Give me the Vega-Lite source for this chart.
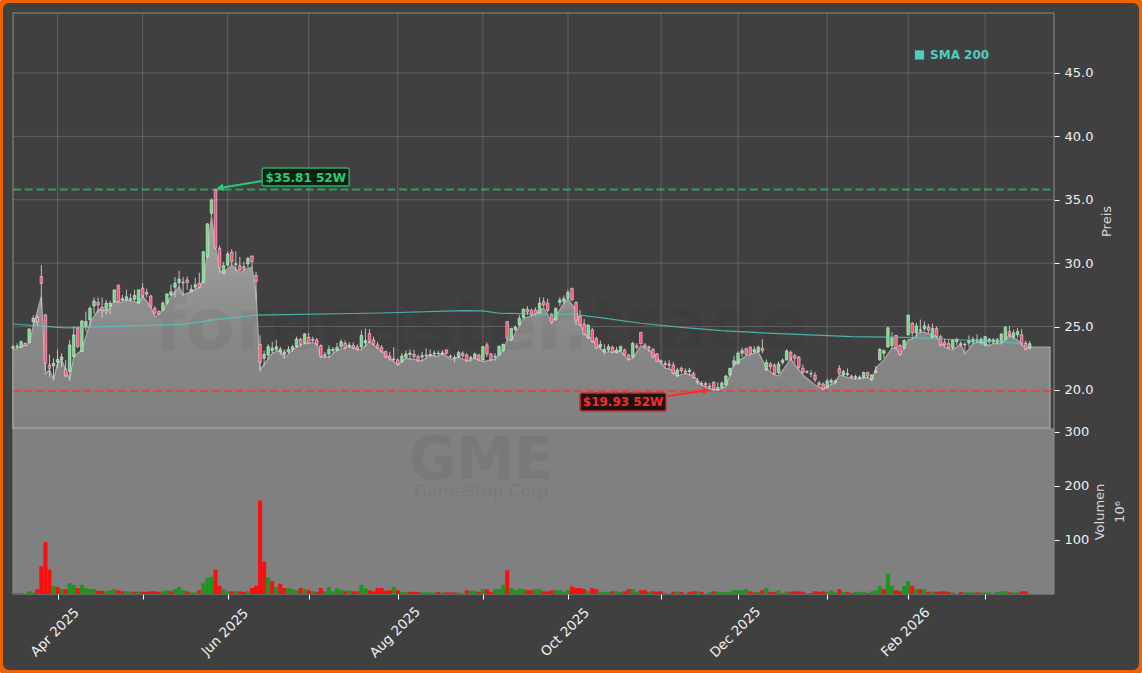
{"$schema":"https://vega.github.io/schema/vega-lite/v6.json","width":1142,"height":673,"autosize":"none","padding":0,"background":"#e8e8e8","view":{"fill":"#404040","stroke":"#F26100","strokeWidth":6,"cornerRadius":9},"config":{"font":"DejaVu Sans","axis":{"domain":false,"grid":false,"tickColor":"#ffffff","tickSize":5,"tickWidth":1,"labelColor":"#f0f0f0","labelFontSize":13,"titleColor":"#d8d8d8","titleFontSize":13,"titleFontWeight":"normal","labelPadding":5}},
"datasets":{
"vgrid":[{"i":11,"p0":16.92,"p1":49.73},{"i":32,"p0":16.92,"p1":49.73},{"i":53,"p0":16.92,"p1":49.73},{"i":73,"p0":16.92,"p1":49.73},{"i":95,"p0":16.92,"p1":49.73},{"i":116,"p0":16.92,"p1":49.73},{"i":137,"p0":16.92,"p1":49.73},{"i":160,"p0":16.92,"p1":49.73},{"i":179,"p0":16.92,"p1":49.73},{"i":201,"p0":16.92,"p1":49.73},{"i":221,"p0":16.92,"p1":49.73},{"i":240,"p0":16.92,"p1":49.73}],
"hgrid":[{"x0":0,"x1":257,"p":20},{"x0":0,"x1":257,"p":25},{"x0":0,"x1":257,"p":30},{"x0":0,"x1":257,"p":35},{"x0":0,"x1":257,"p":40},{"x0":0,"x1":257,"p":45}],
"frame":[{"x0":0,"x1":257,"p0":16.92,"p1":49.73}],
"panel":[{"x0":0,"x1":257,"v0":0,"v1":305}],
"levels":[{"x0":0,"x1":257,"p":35.81,"k":"g"},{"x0":0,"x1":257,"p":19.93,"k":"r"}],
"arrows":[{"i":61.5,"i2":51.1,"p":36.48,"p2":35.93,"k":"g"},{"i":161.7,"i2":171.1,"p":19.53,"p2":19.96,"k":"r"}],
"boxes":[{"x0":61.5,"x1":83,"p0":36.09,"p1":37.5,"k":"g"},{"x0":140,"x1":161.2,"p0":18.34,"p1":19.76,"k":"r"}],
"labels":[{"i":72.25,"p":36.75,"t":"$35.81 52W","k":"g"},{"i":150.6,"p":19.02,"t":"$19.93 52W","k":"r"}],
"sma":[{"i":0,"p":25.2},{"i":13,"p":24.9},{"i":34,"p":25.1},{"i":42,"p":25.18},{"i":49,"p":25.5},{"i":60,"p":25.9},{"i":91,"p":26.07},{"i":111,"p":26.26},{"i":116,"p":26.23},{"i":120,"p":26.05},{"i":133,"p":25.97},{"i":138,"p":25.97},{"i":145,"p":25.7},{"i":155,"p":25.26},{"i":165,"p":24.94},{"i":175,"p":24.68},{"i":184,"p":24.52},{"i":207,"p":24.2},{"i":220,"p":24.15},{"i":229,"p":24.02},{"i":241,"p":23.86},{"i":249,"p":23.68}],
"area":[{"i":0,"p":23.15},{"i":4,"p":23.68},{"i":5,"p":25},{"i":7,"p":27.36},{"i":8,"p":21.26},{"i":9,"p":21.58},{"i":10,"p":20.8},{"i":11,"p":22.1},{"i":12,"p":22.37},{"i":14,"p":20.8},{"i":15,"p":22.63},{"i":17,"p":23.15},{"i":19,"p":25.26},{"i":21,"p":26.3},{"i":22,"p":26.44},{"i":23,"p":26.05},{"i":24,"p":26.57},{"i":25,"p":26.97},{"i":27,"p":26.9},{"i":28,"p":27.1},{"i":31,"p":26.89},{"i":32,"p":27.41},{"i":34,"p":26.57},{"i":35,"p":25.73},{"i":37,"p":26.3},{"i":39,"p":27.36},{"i":41,"p":28.15},{"i":42,"p":27.5},{"i":44,"p":27.76},{"i":46,"p":28.1},{"i":47,"p":28.68},{"i":48,"p":30.78},{"i":49,"p":33.67},{"i":50,"p":31.3},{"i":51,"p":29.46},{"i":52,"p":29.25},{"i":54,"p":29.86},{"i":56,"p":29.25},{"i":57,"p":29.46},{"i":59,"p":29.67},{"i":60,"p":27.62},{"i":61,"p":21.58},{"i":64,"p":22.89},{"i":66,"p":23.15},{"i":67,"p":22.5},{"i":69,"p":23.15},{"i":71,"p":23.55},{"i":73,"p":23.73},{"i":75,"p":23.68},{"i":76,"p":22.63},{"i":78,"p":22.58},{"i":80,"p":23.15},{"i":83,"p":23.42},{"i":86,"p":23.15},{"i":88,"p":23.8},{"i":91,"p":23.05},{"i":95,"p":21.97},{"i":97,"p":22.5},{"i":101,"p":22.3},{"i":103,"p":22.76},{"i":105,"p":22.63},{"i":106,"p":22.94},{"i":108,"p":22.42},{"i":110,"p":22.58},{"i":112,"p":22.3},{"i":114,"p":22.5},{"i":116,"p":22.24},{"i":119,"p":22.42},{"i":121,"p":23.15},{"i":122,"p":23.94},{"i":123,"p":23.94},{"i":125,"p":25},{"i":126,"p":25.65},{"i":128,"p":25.84},{"i":131,"p":26.44},{"i":133,"p":25.39},{"i":134,"p":25.78},{"i":136,"p":26.84},{"i":137,"p":27.15},{"i":139,"p":26.3},{"i":140,"p":25.26},{"i":141,"p":24.47},{"i":143,"p":23.94},{"i":145,"p":23.29},{"i":146,"p":22.97},{"i":148,"p":23.02},{"i":150,"p":23.02},{"i":152,"p":22.37},{"i":153,"p":22.5},{"i":155,"p":23.47},{"i":157,"p":23.15},{"i":159,"p":22.58},{"i":161,"p":21.71},{"i":163,"p":21.58},{"i":164,"p":21.1},{"i":166,"p":21.31},{"i":168,"p":21.1},{"i":170,"p":20.39},{"i":172,"p":20.13},{"i":174,"p":19.97},{"i":176,"p":20.26},{"i":177,"p":21.18},{"i":178,"p":22.1},{"i":181,"p":22.68},{"i":184,"p":23},{"i":186,"p":21.7},{"i":188,"p":21.18},{"i":189,"p":21.1},{"i":191,"p":21.97},{"i":192,"p":22.5},{"i":193,"p":21.97},{"i":195,"p":21.18},{"i":198,"p":20.39},{"i":200,"p":20.08},{"i":201,"p":20.26},{"i":203,"p":20.58},{"i":204,"p":21.18},{"i":206,"p":21},{"i":208,"p":20.84},{"i":211,"p":21},{"i":212,"p":20.74},{"i":213,"p":21.71},{"i":215,"p":22.37},{"i":217,"p":23.29},{"i":218,"p":23.37},{"i":219,"p":22.76},{"i":221,"p":23.94},{"i":222,"p":24},{"i":224,"p":24.6},{"i":226,"p":24.47},{"i":228,"p":24.2},{"i":230,"p":23.37},{"i":232,"p":23.15},{"i":234,"p":23.63},{"i":235,"p":22.8},{"i":237,"p":23.68},{"i":239,"p":23.8},{"i":241,"p":23.47},{"i":242,"p":23.68},{"i":244,"p":23.63},{"i":246,"p":24.34},{"i":248,"p":23.94},{"i":250,"p":23.29},{"i":251,"p":23.37},{"i":256,"p":23.37}],
"candles":[
{"i":0,"o":23.3,"h":23.55,"l":23.15,"c":23.4,"v":2,"u":1},{"i":1,"o":23.4,"h":23.68,"l":23.23,"c":23.45,"v":2,"u":1},{"i":2,"o":23.37,"h":23.9,"l":23.3,"c":23.81,"v":2,"u":1},{"i":3,"o":23.68,"h":23.75,"l":23.45,"c":23.5,"v":1,"u":1},{"i":4,"o":23.73,"h":24.85,"l":23.7,"c":24.81,"v":5,"u":1},{"i":5,"o":25.39,"h":25.9,"l":25,"c":25.65,"v":3,"u":1},{"i":6,"o":25.73,"h":25.9,"l":25,"c":25.34,"v":9,"u":0},{"i":7,"o":28.94,"h":29.85,"l":26.5,"c":28.41,"v":51,"u":0},{"i":8,"o":25.92,"h":26,"l":21.5,"c":22.1,"v":96,"u":0},{"i":9,"o":21.97,"h":22.8,"l":21,"c":21.71,"v":45,"u":0},
{"i":10,"o":21.9,"h":22.5,"l":20.8,"c":22.1,"v":15,"u":1},{"i":11,"o":22.2,"h":23.2,"l":21.7,"c":22.4,"v":13,"u":0},{"i":12,"o":22.4,"h":22.9,"l":21.8,"c":22.6,"v":9,"u":1},{"i":13,"o":21.63,"h":22.35,"l":21,"c":21.1,"v":9,"u":0},{"i":14,"o":21.45,"h":23.95,"l":20.8,"c":23.55,"v":20,"u":1},{"i":15,"o":22.63,"h":25,"l":22.6,"c":24.34,"v":17,"u":1},{"i":16,"o":24.86,"h":25,"l":23.3,"c":23.42,"v":11,"u":0},{"i":17,"o":23.02,"h":25.5,"l":23,"c":25.44,"v":17,"u":1},{"i":18,"o":25,"h":26.18,"l":24.6,"c":25.4,"v":11,"u":1},{"i":19,"o":25.52,"h":26.6,"l":25,"c":26.44,"v":9,"u":1},
{"i":20,"o":26.63,"h":27.3,"l":26,"c":27.02,"v":9,"u":1},{"i":21,"o":26.91,"h":27.3,"l":26.05,"c":26.7,"v":6,"u":0},{"i":22,"o":26.52,"h":27.3,"l":25.7,"c":26.26,"v":6,"u":0},{"i":23,"o":26.26,"h":27.1,"l":25.95,"c":26.84,"v":5,"u":1},{"i":24,"o":26.6,"h":27,"l":25.95,"c":26.85,"v":7,"u":1},{"i":25,"o":26.97,"h":27.9,"l":26.9,"c":27.89,"v":9,"u":1},{"i":26,"o":28.28,"h":28.28,"l":26.9,"c":26.97,"v":7,"u":0},{"i":27,"o":27.05,"h":27.5,"l":27,"c":27.2,"v":5,"u":0},{"i":28,"o":27.1,"h":27.9,"l":27,"c":27.35,"v":5,"u":1},{"i":29,"o":27.1,"h":27.6,"l":27,"c":27.2,"v":5,"u":1},
{"i":30,"o":27.15,"h":27.9,"l":27,"c":27.45,"v":4,"u":0},{"i":31,"o":26.85,"h":27.9,"l":26.8,"c":27.9,"v":5,"u":1},{"i":32,"o":28.02,"h":28.4,"l":27.2,"c":27.41,"v":4,"u":0},{"i":33,"o":27.7,"h":28,"l":27.3,"c":27.55,"v":4,"u":0},{"i":34,"o":27.41,"h":27.5,"l":26.5,"c":26.57,"v":5,"u":0},{"i":35,"o":26.44,"h":26.6,"l":25.9,"c":26.05,"v":5,"u":0},{"i":36,"o":26.18,"h":26.3,"l":25.9,"c":26,"v":4,"u":0},{"i":37,"o":26.3,"h":27,"l":26.2,"c":26.84,"v":5,"u":1},{"i":38,"o":26.84,"h":27.6,"l":26.7,"c":27.57,"v":7,"u":1},{"i":39,"o":27.5,"h":28.3,"l":27.4,"c":27.75,"v":5,"u":0},
{"i":40,"o":28.1,"h":28.9,"l":27.3,"c":28.41,"v":9,"u":1},{"i":41,"o":28.47,"h":29.4,"l":28.1,"c":28.73,"v":13,"u":1},{"i":42,"o":28.5,"h":28.9,"l":27.4,"c":28.45,"v":7,"u":1},{"i":43,"o":28.68,"h":28.95,"l":27.9,"c":28.47,"v":5,"u":0},{"i":44,"o":27.76,"h":28.3,"l":27.7,"c":27.94,"v":3,"u":1},{"i":45,"o":28.1,"h":28.85,"l":27.9,"c":28.3,"v":3,"u":1},{"i":46,"o":28.41,"h":29.25,"l":28,"c":28.1,"v":7,"u":0},{"i":47,"o":28.5,"h":30.96,"l":28.4,"c":30.9,"v":20,"u":1},{"i":48,"o":30.52,"h":33.14,"l":30.4,"c":33.1,"v":30,"u":1},{"i":49,"o":33.93,"h":35.1,"l":33.67,"c":34.98,"v":32,"u":1},
{"i":50,"o":35.81,"h":35.81,"l":31.1,"c":31.2,"v":45,"u":0},{"i":51,"o":31.17,"h":31.4,"l":29.2,"c":29.6,"v":15,"u":0},{"i":52,"o":29.2,"h":30.1,"l":29.15,"c":29.8,"v":9,"u":1},{"i":53,"o":29.86,"h":30.93,"l":29.7,"c":30.73,"v":5,"u":1},{"i":54,"o":30.86,"h":31.1,"l":29.86,"c":30.12,"v":5,"u":0},{"i":55,"o":29.9,"h":30.94,"l":29.35,"c":29.95,"v":5,"u":1},{"i":56,"o":29.8,"h":30.5,"l":29.35,"c":29.46,"v":5,"u":0},{"i":57,"o":29.73,"h":30.1,"l":29.4,"c":29.55,"v":4,"u":0},{"i":58,"o":29.94,"h":30.5,"l":29.6,"c":30.38,"v":5,"u":1},{"i":59,"o":30.57,"h":30.57,"l":29.6,"c":30.12,"v":11,"u":0},
{"i":60,"o":29.05,"h":29.3,"l":27,"c":28.55,"v":15,"u":0},{"i":61,"o":23.6,"h":24.3,"l":21.45,"c":22.18,"v":173,"u":0},{"i":62,"o":22.5,"h":23.1,"l":21.9,"c":22.8,"v":60,"u":0},{"i":63,"o":22.76,"h":23.6,"l":22.4,"c":23.42,"v":30,"u":1},{"i":64,"o":23.1,"h":23.8,"l":22.9,"c":23.3,"v":24,"u":0},{"i":65,"o":23.2,"h":23.95,"l":23,"c":23.4,"v":13,"u":1},{"i":66,"o":23,"h":23.4,"l":22.75,"c":23.2,"v":19,"u":0},{"i":67,"o":22.8,"h":23.2,"l":22.5,"c":23,"v":11,"u":0},{"i":68,"o":23,"h":23.45,"l":22.9,"c":23.2,"v":11,"u":1},{"i":69,"o":23.2,"h":23.55,"l":23,"c":23.4,"v":9,"u":1},
{"i":70,"o":23.42,"h":24.2,"l":23.3,"c":24,"v":7,"u":1},{"i":71,"o":24,"h":24.1,"l":23.4,"c":23.6,"v":11,"u":0},{"i":72,"o":23.68,"h":24.5,"l":23.6,"c":24.42,"v":9,"u":1},{"i":73,"o":24.15,"h":24.5,"l":23.6,"c":23.68,"v":7,"u":0},{"i":74,"o":24,"h":24.2,"l":23.7,"c":23.9,"v":5,"u":1},{"i":75,"o":23.94,"h":24.1,"l":23.5,"c":23.6,"v":4,"u":0},{"i":76,"o":23.5,"h":23.6,"l":22.5,"c":22.63,"v":11,"u":0},{"i":77,"o":22.8,"h":23,"l":22.5,"c":22.7,"v":5,"u":1},{"i":78,"o":22.84,"h":23.5,"l":22.5,"c":23.2,"v":13,"u":1},{"i":79,"o":23.1,"h":23.4,"l":22.9,"c":23.2,"v":5,"u":1},
{"i":80,"o":23.15,"h":23.7,"l":23,"c":23.37,"v":11,"u":1},{"i":81,"o":23.42,"h":24,"l":23.3,"c":23.8,"v":7,"u":1},{"i":82,"o":23.68,"h":23.9,"l":23.2,"c":23.3,"v":5,"u":0},{"i":83,"o":23.45,"h":23.8,"l":23.3,"c":23.55,"v":7,"u":1},{"i":84,"o":23.5,"h":23.75,"l":23.2,"c":23.3,"v":5,"u":0},{"i":85,"o":23.4,"h":23.6,"l":23.1,"c":23.2,"v":5,"u":0},{"i":86,"o":23.4,"h":24.7,"l":23.2,"c":24.3,"v":17,"u":1},{"i":87,"o":23.7,"h":24.85,"l":23.4,"c":23.9,"v":11,"u":1},{"i":88,"o":24.45,"h":24.8,"l":23.7,"c":23.8,"v":7,"u":0},{"i":89,"o":23.95,"h":24.2,"l":23.5,"c":23.6,"v":5,"u":0},
{"i":90,"o":23.55,"h":23.8,"l":23.2,"c":23.3,"v":11,"u":0},{"i":91,"o":23.37,"h":23.55,"l":22.9,"c":23.02,"v":11,"u":0},{"i":92,"o":23.02,"h":23.1,"l":22.5,"c":22.58,"v":6,"u":0},{"i":93,"o":22.68,"h":23,"l":22.3,"c":22.47,"v":7,"u":0},{"i":94,"o":22.45,"h":23.37,"l":22.2,"c":22.4,"v":13,"u":1},{"i":95,"o":22.37,"h":22.5,"l":21.9,"c":22.02,"v":7,"u":0},{"i":96,"o":22.24,"h":22.9,"l":22.1,"c":22.68,"v":4,"u":1},{"i":97,"o":22.58,"h":23.1,"l":22.5,"c":22.84,"v":4,"u":1},{"i":98,"o":22.8,"h":23.2,"l":22.4,"c":22.9,"v":4,"u":0},{"i":99,"o":22.81,"h":23.15,"l":22.4,"c":22.63,"v":4,"u":0},
{"i":100,"o":22.63,"h":22.8,"l":22.2,"c":22.3,"v":4,"u":0},{"i":101,"o":22.6,"h":23,"l":22.3,"c":22.7,"v":3,"u":1},{"i":102,"o":22.7,"h":23.3,"l":22.5,"c":22.75,"v":3,"u":1},{"i":103,"o":22.7,"h":23.2,"l":22.6,"c":22.8,"v":3,"u":1},{"i":104,"o":22.85,"h":23.1,"l":22.6,"c":22.9,"v":3,"u":1},{"i":105,"o":22.9,"h":23.1,"l":22.7,"c":22.85,"v":4,"u":0},{"i":106,"o":22.85,"h":23.15,"l":22.7,"c":22.9,"v":3,"u":1},{"i":107,"o":23.15,"h":23.2,"l":22.8,"c":22.9,"v":3,"u":0},{"i":108,"o":22.65,"h":22.8,"l":22.5,"c":22.6,"v":3,"u":0},{"i":109,"o":22.55,"h":22.75,"l":22.2,"c":22.5,"v":3,"u":0},
{"i":110,"o":22.63,"h":23.1,"l":22.5,"c":22.94,"v":3,"u":1},{"i":111,"o":22.9,"h":23.05,"l":22.55,"c":22.7,"v":1,"u":0},{"i":112,"o":22.76,"h":22.9,"l":22.25,"c":22.3,"v":7,"u":0},{"i":113,"o":22.5,"h":22.7,"l":22.2,"c":22.55,"v":6,"u":1},{"i":114,"o":22.55,"h":22.95,"l":22.4,"c":22.84,"v":6,"u":1},{"i":115,"o":22.76,"h":22.85,"l":22.3,"c":22.37,"v":4,"u":0},{"i":116,"o":22.37,"h":23.45,"l":22.2,"c":23.42,"v":9,"u":1},{"i":117,"o":23.55,"h":23.75,"l":22.6,"c":22.84,"v":9,"u":0},{"i":118,"o":22.84,"h":22.9,"l":22.3,"c":22.37,"v":4,"u":0},{"i":119,"o":22.6,"h":22.9,"l":22.3,"c":22.65,"v":9,"u":1},
{"i":120,"o":22.76,"h":23.5,"l":22.7,"c":23.45,"v":9,"u":1},{"i":121,"o":23.1,"h":23.65,"l":23,"c":23.6,"v":17,"u":1},{"i":122,"o":25.39,"h":25.4,"l":23.9,"c":24.07,"v":44,"u":0},{"i":123,"o":23.94,"h":24.9,"l":23.9,"c":24.86,"v":11,"u":1},{"i":124,"o":24.75,"h":25.1,"l":24.6,"c":24.95,"v":7,"u":1},{"i":125,"o":25.15,"h":25.9,"l":25,"c":25.65,"v":9,"u":1},{"i":126,"o":25.73,"h":26.45,"l":25.65,"c":26.36,"v":9,"u":1},{"i":127,"o":26.36,"h":26.6,"l":25.9,"c":26.15,"v":7,"u":0},{"i":128,"o":26.3,"h":26.4,"l":25.8,"c":25.92,"v":7,"u":0},{"i":129,"o":26.3,"h":26.5,"l":25.85,"c":25.95,"v":9,"u":1},
{"i":130,"o":26.05,"h":27.3,"l":26,"c":26.84,"v":9,"u":1},{"i":131,"o":26.97,"h":27.3,"l":26.5,"c":26.7,"v":5,"u":0},{"i":132,"o":26.84,"h":27.2,"l":26.1,"c":26.26,"v":5,"u":0},{"i":133,"o":25.92,"h":26.1,"l":25.2,"c":25.31,"v":7,"u":0},{"i":134,"o":25.52,"h":26.5,"l":25.45,"c":26.44,"v":7,"u":1},{"i":135,"o":26.9,"h":27.3,"l":26.6,"c":27.1,"v":7,"u":1},{"i":136,"o":27,"h":27.45,"l":26.8,"c":27.2,"v":4,"u":1},{"i":137,"o":27.23,"h":27.9,"l":27.1,"c":27.7,"v":7,"u":1},{"i":138,"o":28.02,"h":28.05,"l":27,"c":27.1,"v":14,"u":0},{"i":139,"o":26.9,"h":27,"l":25.1,"c":25.5,"v":11,"u":0},
{"i":140,"o":25.8,"h":26.3,"l":25,"c":25.13,"v":11,"u":0},{"i":141,"o":25.2,"h":25.6,"l":24.3,"c":24.4,"v":9,"u":0},{"i":142,"o":24.1,"h":25.2,"l":24,"c":25.1,"v":5,"u":1},{"i":143,"o":24.73,"h":24.9,"l":23.7,"c":23.8,"v":11,"u":0},{"i":144,"o":24.07,"h":24.2,"l":23.2,"c":23.3,"v":9,"u":0},{"i":145,"o":23.4,"h":23.9,"l":23.2,"c":23.6,"v":4,"u":1},{"i":146,"o":23,"h":23.6,"l":22.8,"c":23.2,"v":4,"u":1},{"i":147,"o":23.15,"h":23.6,"l":23,"c":23.42,"v":4,"u":1},{"i":148,"o":23.37,"h":23.5,"l":22.9,"c":22.95,"v":5,"u":0},{"i":149,"o":22.94,"h":23.4,"l":22.9,"c":23.15,"v":5,"u":1},
{"i":150,"o":23.08,"h":23.5,"l":23,"c":23.42,"v":4,"u":1},{"i":151,"o":23.15,"h":23.25,"l":22.7,"c":22.76,"v":5,"u":0},{"i":152,"o":22.76,"h":22.85,"l":22.3,"c":22.42,"v":9,"u":0},{"i":153,"o":22.58,"h":23.8,"l":22.5,"c":23.68,"v":9,"u":1},{"i":154,"o":23.5,"h":23.7,"l":23.2,"c":23.35,"v":4,"u":1},{"i":155,"o":24.55,"h":24.55,"l":23.6,"c":23.63,"v":7,"u":0},{"i":156,"o":23.55,"h":23.7,"l":23.3,"c":23.37,"v":7,"u":0},{"i":157,"o":23.4,"h":23.5,"l":23,"c":23.3,"v":4,"u":1},{"i":158,"o":23.2,"h":23.3,"l":22.5,"c":22.6,"v":5,"u":0},{"i":159,"o":22.85,"h":22.9,"l":22.2,"c":22.25,"v":4,"u":0},
{"i":160,"o":22.3,"h":22.4,"l":22,"c":22.2,"v":5,"u":0},{"i":161,"o":22.1,"h":22.3,"l":21.7,"c":22,"v":2,"u":1},{"i":162,"o":22.05,"h":22.35,"l":21.6,"c":21.95,"v":1,"u":1},{"i":163,"o":21.97,"h":22.2,"l":21.2,"c":21.31,"v":4,"u":0},{"i":164,"o":21.1,"h":21.75,"l":21,"c":21.58,"v":5,"u":1},{"i":165,"o":21.71,"h":21.85,"l":21.3,"c":21.52,"v":4,"u":0},{"i":166,"o":21.5,"h":21.7,"l":21.2,"c":21.4,"v":1,"u":1},{"i":167,"o":21.45,"h":21.75,"l":21.1,"c":21.55,"v":4,"u":0},{"i":168,"o":21.31,"h":21.45,"l":20.9,"c":20.97,"v":5,"u":0},{"i":169,"o":20.7,"h":20.95,"l":20.4,"c":20.6,"v":5,"u":1},
{"i":170,"o":20.5,"h":20.7,"l":20.3,"c":20.45,"v":4,"u":0},{"i":171,"o":20.5,"h":20.65,"l":20.2,"c":20.4,"v":1,"u":1},{"i":172,"o":20.3,"h":20.55,"l":20.1,"c":20.25,"v":4,"u":1},{"i":173,"o":20.6,"h":20.7,"l":19.93,"c":20.05,"v":5,"u":0},{"i":174,"o":19.97,"h":20.6,"l":19.93,"c":20.2,"v":4,"u":1},{"i":175,"o":20.2,"h":20.7,"l":20.15,"c":20.53,"v":4,"u":1},{"i":176,"o":20.4,"h":21.2,"l":20.3,"c":21.1,"v":4,"u":1},{"i":177,"o":21.2,"h":21.75,"l":21.1,"c":21.7,"v":4,"u":1},{"i":178,"o":22,"h":22.7,"l":21.8,"c":22.3,"v":7,"u":1},{"i":179,"o":22.1,"h":23.05,"l":22,"c":22.9,"v":7,"u":1},
{"i":180,"o":22.9,"h":23.35,"l":22.6,"c":23.1,"v":7,"u":1},{"i":181,"o":23.25,"h":23.35,"l":22.7,"c":22.8,"v":9,"u":1},{"i":182,"o":23.37,"h":23.45,"l":22.7,"c":22.85,"v":5,"u":0},{"i":183,"o":23,"h":23.45,"l":22.85,"c":23.2,"v":3,"u":0},{"i":184,"o":23.02,"h":23.5,"l":22.95,"c":23.37,"v":4,"u":1},{"i":185,"o":23.29,"h":24,"l":22.9,"c":23.1,"v":7,"u":0},{"i":186,"o":21.58,"h":22.4,"l":21.5,"c":22.16,"v":11,"u":1},{"i":187,"o":22.05,"h":22.2,"l":21.55,"c":21.84,"v":4,"u":0},{"i":188,"o":21.95,"h":22.1,"l":21.2,"c":21.26,"v":4,"u":0},{"i":189,"o":21.37,"h":22.25,"l":21.25,"c":22.05,"v":7,"u":1},
{"i":190,"o":22.16,"h":22.5,"l":22,"c":22.35,"v":2,"u":1},{"i":191,"o":22.37,"h":23.2,"l":22.3,"c":23.08,"v":5,"u":1},{"i":192,"o":22.97,"h":23.1,"l":22.3,"c":22.5,"v":4,"u":0},{"i":193,"o":22.7,"h":22.85,"l":22.1,"c":22.5,"v":5,"u":0},{"i":194,"o":22.58,"h":22.7,"l":21.6,"c":21.79,"v":5,"u":0},{"i":195,"o":21.71,"h":22,"l":21.25,"c":21.37,"v":4,"u":0},{"i":196,"o":21.4,"h":21.55,"l":21.3,"c":21.45,"v":1,"u":0},{"i":197,"o":21.3,"h":21.55,"l":21,"c":21.25,"v":2,"u":0},{"i":198,"o":21.18,"h":21.4,"l":20.6,"c":20.8,"v":5,"u":0},{"i":199,"o":20.55,"h":20.7,"l":20.25,"c":20.4,"v":4,"u":0},
{"i":200,"o":20.47,"h":20.6,"l":19.95,"c":20.05,"v":5,"u":0},{"i":201,"o":20.2,"h":20.9,"l":20.1,"c":20.7,"v":4,"u":1},{"i":202,"o":20.6,"h":20.9,"l":20.4,"c":20.75,"v":7,"u":1},{"i":203,"o":20.6,"h":20.85,"l":20.4,"c":20.7,"v":3,"u":1},{"i":204,"o":21.7,"h":21.95,"l":21.2,"c":21.31,"v":9,"u":0},{"i":205,"o":21.18,"h":21.6,"l":21.1,"c":21.45,"v":4,"u":1},{"i":206,"o":21.2,"h":21.7,"l":21.1,"c":21.3,"v":4,"u":0},{"i":207,"o":21.1,"h":21.2,"l":20.9,"c":21,"v":2,"u":0},{"i":208,"o":20.95,"h":21.2,"l":20.8,"c":21.05,"v":4,"u":1},{"i":209,"o":20.95,"h":21.15,"l":20.8,"c":21,"v":4,"u":1},
{"i":210,"o":21,"h":21.45,"l":20.9,"c":21.37,"v":4,"u":1},{"i":211,"o":21.37,"h":21.45,"l":20.9,"c":21.1,"v":2,"u":0},{"i":212,"o":20.8,"h":21.25,"l":20.75,"c":21.18,"v":5,"u":1},{"i":213,"o":21.4,"h":21.9,"l":21.3,"c":21.5,"v":7,"u":1},{"i":214,"o":22.37,"h":23.3,"l":22.3,"c":23.2,"v":15,"u":1},{"i":215,"o":22.9,"h":23.2,"l":22.5,"c":23.1,"v":9,"u":0},{"i":216,"o":23.4,"h":25,"l":23.3,"c":24.9,"v":37,"u":1},{"i":217,"o":23.5,"h":24.55,"l":23.2,"c":24.1,"v":15,"u":1},{"i":218,"o":24.3,"h":24.35,"l":23.1,"c":23.3,"v":7,"u":0},{"i":219,"o":23.5,"h":23.6,"l":22.7,"c":22.8,"v":5,"u":0},
{"i":220,"o":23.3,"h":24,"l":23.2,"c":23.9,"v":15,"u":1},{"i":221,"o":24.34,"h":25.95,"l":24.3,"c":25.9,"v":24,"u":1},{"i":222,"o":25.26,"h":25.35,"l":24,"c":24.5,"v":15,"u":0},{"i":223,"o":24.5,"h":25.3,"l":24.2,"c":25.05,"v":9,"u":1},{"i":224,"o":24.7,"h":25.55,"l":24.5,"c":24.75,"v":9,"u":0},{"i":225,"o":24.85,"h":25.4,"l":24.6,"c":25.05,"v":9,"u":1},{"i":226,"o":24.95,"h":25.2,"l":24.5,"c":24.7,"v":4,"u":0},{"i":227,"o":24.15,"h":25.25,"l":24.1,"c":24.85,"v":5,"u":1},{"i":228,"o":24.85,"h":25,"l":24.1,"c":24.2,"v":4,"u":0},{"i":229,"o":24.2,"h":24.35,"l":23.4,"c":23.55,"v":5,"u":0},
{"i":230,"o":23.75,"h":24.05,"l":23.4,"c":23.55,"v":5,"u":0},{"i":231,"o":23.65,"h":23.95,"l":23.25,"c":23.3,"v":4,"u":0},{"i":232,"o":23.3,"h":24,"l":23.2,"c":23.95,"v":3,"u":1},{"i":233,"o":23.8,"h":24.1,"l":23.5,"c":24,"v":1,"u":1},{"i":234,"o":23.65,"h":23.85,"l":23.4,"c":23.6,"v":4,"u":0},{"i":235,"o":23.6,"h":23.75,"l":22.9,"c":23.55,"v":3,"u":1},{"i":236,"o":23.7,"h":24.3,"l":23.4,"c":23.9,"v":3,"u":1},{"i":237,"o":23.8,"h":24.2,"l":23.6,"c":24,"v":3,"u":1},{"i":238,"o":23.85,"h":24.4,"l":23.7,"c":23.95,"v":3,"u":0},{"i":239,"o":23.75,"h":24.15,"l":23.6,"c":24,"v":3,"u":1},
{"i":240,"o":23.55,"h":24.25,"l":23.4,"c":24.2,"v":3,"u":1},{"i":241,"o":23.8,"h":24.1,"l":23.5,"c":24,"v":3,"u":1},{"i":242,"o":23.8,"h":24.1,"l":23.6,"c":23.95,"v":1,"u":1},{"i":243,"o":23.75,"h":24.1,"l":23.6,"c":23.95,"v":4,"u":1},{"i":244,"o":23.75,"h":24.5,"l":23.6,"c":24.4,"v":5,"u":1},{"i":245,"o":23.95,"h":25,"l":23.9,"c":24.95,"v":5,"u":1},{"i":246,"o":24.6,"h":25.05,"l":24.1,"c":24.35,"v":3,"u":0},{"i":247,"o":24.2,"h":24.75,"l":24,"c":24.5,"v":3,"u":1},{"i":248,"o":24.35,"h":24.9,"l":24.1,"c":24.6,"v":3,"u":1},{"i":249,"o":24.35,"h":24.8,"l":23.5,"c":23.65,"v":5,"u":0},
{"i":250,"o":23.7,"h":23.9,"l":23.15,"c":23.2,"v":5,"u":0},{"i":251,"o":23.3,"h":23.85,"l":23.2,"c":23.65,"v":1,"u":1}],
"wm1":[{"i":115.6,"p":25,"t":"forecaster.trade"}],
"wm2":[{"i":115.6,"v":244,"t":"GME"},{"i":115.6,"v":188,"t":"GameStop Corp"}],
"legend":[{"i":226.4,"j":223.8,"p":46.42,"t":"SMA 200"}]
},
"layer":[
{"resolve":{"axis":{"x":"independent","y":"independent"}},"layer":[
{"data":{"name":"hgrid"},"mark":{"type":"rule","color":"#6b6b6b","strokeWidth":0.8},"encoding":{"x":{"field":"x0","type":"quantitative","scale":{"domain":[0,257],"range":[13,1054],"nice":false,"zero":false,"padding":0},"axis":{"orient":"bottom","offset":-79,"title":null,"values":[11,32,53,73,95,116,137,160,179,201,221,240],"labelAngle":-45,"labelAlign":"center","labelBaseline":"middle","labelPadding":33,"labelOffset":-3,"labelOverlap":false,"labelFontSize":13.5,"labelExpr":"{11:'Apr 2025',53:'Jun 2025',95:'Aug 2025',137:'Oct 2025',179:'Dec 2025',221:'Feb 2026'}[datum.value]||''"}},"x2":{"field":"x1"},"y":{"field":"p","type":"quantitative","scale":{"domain":[16.92,49.73],"range":[429,13],"nice":false,"zero":false},"axis":{"orient":"right","offset":-88,"title":"Preis","titleAngle":270,"titlePadding":21,"values":[20,25,30,35,40,45],"format":".1f","labelOverlap":false}}}},
{"data":{"name":"vgrid"},"mark":{"type":"rule","color":"#6b6b6b","strokeWidth":0.8},"encoding":{"x":{"field":"i","type":"quantitative","axis":null},"y":{"field":"p0","type":"quantitative","axis":null},"y2":{"field":"p1"}}},
{"data":{"name":"frame"},"mark":{"type":"rect","fillOpacity":0,"stroke":"#8c8c8c","strokeWidth":1},"encoding":{"x":{"field":"x0","type":"quantitative","axis":null},"x2":{"field":"x1"},"y":{"field":"p0","type":"quantitative","axis":null},"y2":{"field":"p1"}}},
{"data":{"name":"area"},"mark":{"type":"area","stroke":"#a8a8a8","strokeWidth":1.3,"fill":{"x1":0,"y1":0,"x2":0,"y2":1,"gradient":"linear","stops":[{"offset":0,"color":"#a6a6a6"},{"offset":0.55,"color":"#888888"},{"offset":1,"color":"#808080"}]}},"encoding":{"x":{"field":"i","type":"quantitative","axis":null},"y":{"field":"p","type":"quantitative","axis":null},"y2":{"datum":17}}},
{"data":{"name":"wm1"},"mark":{"type":"text","fontSize":72,"fontWeight":"bold","color":"#000000","opacity":0.045},"encoding":{"x":{"field":"i","type":"quantitative","axis":null},"y":{"field":"p","type":"quantitative","axis":null},"text":{"field":"t"}}},
{"data":{"name":"levels"},"mark":{"type":"rule","strokeDash":[8,3.7],"strokeWidth":1.8,"opacity":0.65},"encoding":{"x":{"field":"x0","type":"quantitative","axis":null},"x2":{"field":"x1"},"y":{"field":"p","type":"quantitative","axis":null},"color":{"field":"k","type":"nominal","legend":null,"scale":{"domain":["g","r"],"range":["#2ecc71","#ff2a2a"]}}}},
{"data":{"name":"candles"},"mark":{"type":"rule","color":"#d0d0d0","strokeWidth":0.9},"encoding":{"x":{"field":"i","type":"quantitative","axis":null},"y":{"field":"l","type":"quantitative","axis":null},"y2":{"field":"h"}}},
{"data":{"name":"candles"},"mark":{"type":"bar","orient":"vertical","size":2.6,"stroke":"#f4f4f4","strokeWidth":0.5},"encoding":{"x":{"field":"i","type":"quantitative","axis":null},"y":{"field":"o","type":"quantitative","axis":null},"y2":{"field":"c"},"fill":{"condition":{"test":"datum.c>=datum.o","value":"#6fdc82"},"value":"#ff4f78"}}},
{"data":{"name":"sma"},"mark":{"type":"line","color":"#4ecdc4","strokeWidth":1.2,"opacity":0.8},"encoding":{"x":{"field":"i","type":"quantitative","axis":null},"y":{"field":"p","type":"quantitative","axis":null}}},
{"data":{"name":"legend"},"mark":{"type":"point","shape":"square","filled":true,"color":"#4ecdc4","size":85,"opacity":1},"encoding":{"x":{"field":"j","type":"quantitative","axis":null},"y":{"field":"p","type":"quantitative","axis":null}}},
{"data":{"name":"legend"},"mark":{"type":"text","align":"left","fontSize":12,"fontWeight":"bold","color":"#4ecdc4"},"encoding":{"x":{"field":"i","type":"quantitative","axis":null},"y":{"field":"p","type":"quantitative","axis":null},"text":{"field":"t"}}},
{"data":{"name":"arrows"},"mark":{"type":"rule","strokeWidth":2},"encoding":{"x":{"field":"i","type":"quantitative","axis":null},"x2":{"field":"i2"},"y":{"field":"p","type":"quantitative","axis":null},"y2":{"field":"p2"},"color":{"field":"k","type":"nominal","legend":null}}},
{"data":{"name":"arrows"},"transform":[{"filter":"datum.k=='g'"}],"mark":{"type":"point","shape":"triangle-left","filled":true,"size":60,"angle":-9,"opacity":1},"encoding":{"x":{"field":"i2","type":"quantitative","axis":null},"y":{"field":"p2","type":"quantitative","axis":null},"color":{"field":"k","type":"nominal","legend":null}}},
{"data":{"name":"arrows"},"transform":[{"filter":"datum.k=='r'"}],"mark":{"type":"point","shape":"triangle-right","filled":true,"size":60,"angle":-9,"opacity":1},"encoding":{"x":{"field":"i2","type":"quantitative","axis":null},"y":{"field":"p2","type":"quantitative","axis":null},"color":{"field":"k","type":"nominal","legend":null}}},
{"data":{"name":"boxes"},"mark":{"type":"rect","cornerRadius":2,"strokeWidth":1.5},"encoding":{"x":{"field":"x0","type":"quantitative","axis":null},"x2":{"field":"x1"},"y":{"field":"p0","type":"quantitative","axis":null},"y2":{"field":"p1"},"fill":{"field":"k","type":"nominal","legend":null,"scale":{"domain":["g","r"],"range":["#0a2014","#1c1212"]}},"stroke":{"field":"k","type":"nominal","legend":null,"scale":{"domain":["g","r"],"range":["#27ae60","#c92a2a"]}}}},
{"data":{"name":"labels"},"mark":{"type":"text","fontSize":12,"fontWeight":"bold"},"encoding":{"x":{"field":"i","type":"quantitative","axis":null},"y":{"field":"p","type":"quantitative","axis":null},"text":{"field":"t"},"color":{"field":"k","type":"nominal","legend":null}}}
]},
{"resolve":{"axis":{"x":"independent","y":"independent"}},"layer":[
{"data":{"name":"panel"},"mark":{"type":"rect","fill":"#808080","stroke":"#8c8c8c","strokeWidth":1},"encoding":{"x":{"field":"x0","type":"quantitative","axis":null},"x2":{"field":"x1"},"y":{"field":"v0","type":"quantitative","scale":{"domain":[0,305],"range":[594,429],"nice":false,"zero":false},"axis":{"orient":"right","offset":-88,"title":["Volumen","10⁶"],"titleAngle":270,"titlePadding":-2,"titleLineHeight":20,"values":[100,200,300],"format":"d","labelOverlap":false}},"y2":{"field":"v1"}}},
{"data":{"name":"wm2"},"transform":[{"filter":"datum.t=='GME'"}],"mark":{"type":"text","fontSize":58,"fontWeight":"bold","color":"#000000","opacity":0.05},"encoding":{"x":{"field":"i","type":"quantitative","axis":null},"y":{"field":"v","type":"quantitative","axis":null},"text":{"field":"t"}}},
{"data":{"name":"wm2"},"transform":[{"filter":"datum.t!='GME'"}],"mark":{"type":"text","fontSize":17,"color":"#000000","opacity":0.05},"encoding":{"x":{"field":"i","type":"quantitative","axis":null},"y":{"field":"v","type":"quantitative","axis":null},"text":{"field":"t"}}},
{"data":{"name":"candles"},"mark":{"type":"bar","orient":"vertical","size":4.05},"encoding":{"x":{"field":"i","type":"quantitative","axis":null},"y":{"field":"v","type":"quantitative","axis":null,"stack":null},"y2":{"datum":0},"fill":{"condition":{"test":"datum.u==1","value":"#1e941e"},"value":"#f71010"}}}
]}
],
"resolve":{"scale":{"y":"independent"},"axis":{"x":"independent","y":"independent"}}}
